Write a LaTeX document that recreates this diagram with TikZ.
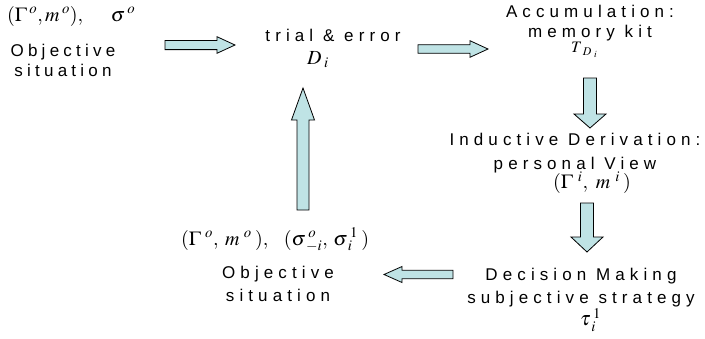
\documentclass[tikz,border=0pt]{standalone}
\usepackage{mathptmx}
\usepackage[no-math]{fontspec}
\setmainfont{Liberation Sans}[LetterSpace=30]
\usetikzlibrary{calc}
\definecolor{arrowfill}{HTML}{BFE3E5}
\tikzset{
  barrow/.style={draw=black, line width=0.8pt, fill=arrowfill, line join=miter},
  lbl/.style={font=\fontsize{17}{20}\selectfont, align=center, inner sep=0pt},
  mth/.style={font=\fontsize{20}{24}\selectfont, inner sep=0pt},
}
\newcommand\blockarrow[5]{%
  \coordinate (hb) at ($(#2)!#5!(#1)$);
  \filldraw[barrow] ($(#1)!#3!90:(#2)$) -- ($(hb)!#3!90:(#2)$) -- ($(hb)!#4!90:(#2)$)
    -- (#2) -- ($(hb)!#4!-90:(#2)$) -- ($(hb)!#3!-90:(#2)$) -- ($(#1)!#3!-90:(#2)$) -- cycle;
}
\begin{document}
\begin{tikzpicture}[x=1pt,y=-1pt]
  \useasboundingbox (0,0) rectangle (705,338);
  % texts
  \node[mth, anchor=west] (m1) at (7,16) {$(\Gamma^{\mkern3mu o},m^{\mkern3mu o}),\ \ \,\sigma^{\mkern3mu o}$};
  \node[lbl, font=\fontsize{17}{20}\selectfont\addfontfeatures{LetterSpace=25}] (o1) at (63,60) {Objective\\situation};
  \node[lbl] (t1) at (333,35) {trial \& error};
  \node[mth, anchor=west] (d1) at (307,60) {$D_{\mkern3mu i}$};
  \node[inner sep=0pt, font=\fontsize{16}{20}\selectfont, anchor=west] (tdi) at (571,50) {$T_{\mkern6mu D_{\mkern5mu i}}$};
  \node[lbl] (acc) at (590,23) {Accumulation:\\memory kit};
  \node[lbl, font=\fontsize{17}{24}\selectfont] (ind) at (575,153) {Inductive Derivation:\\personal View};
  \node[mth, anchor=west] (gi) at (553,183) {$(\Gamma^{\mkern6mu i},\mkern5mu m^{\mkern6mu i}\mkern3mu)$};
  \node[lbl, font=\fontsize{17}{23}\selectfont] (dec) at (581,288) {Decision Making\\subjective strategy};
  \node[mth, anchor=west] (tau) at (580,320) {$\tau^{\mkern3mu 1}_{\mkern3mu i}$};
  \node[mth, anchor=west] (m2) at (181,240) {$(\Gamma^{\mkern5mu o},\mkern4mu m^{\mkern5mu o}\mkern3mu),\mkern12mu(\sigma^{\mkern3mu o}_{\mkern3mu -i},\mkern3mu\sigma^{\mkern3mu 1}_{\mkern3mu i}\mkern3mu)$};
  \node[lbl, font=\fontsize{17}{23}\selectfont] (o2) at (278,284) {Objective\\situation};
  % arrows
  \coordinate (a1s) at (165,45);   \coordinate (a1e) at (235,45);
  \coordinate (a2s) at (418,49);   \coordinate (a2e) at (488,49);
  \coordinate (a3s) at (590,78);   \coordinate (a3e) at (590,128);
  \coordinate (a4s) at (587,203);  \coordinate (a4e) at (587,252);
  \coordinate (a5s) at (453,274.5);\coordinate (a5e) at (384,274.5);
  \coordinate (a6s) at (303,210);  \coordinate (a6e) at (303,88);
  \blockarrow{a1s}{a1e}{4.6pt}{8.3pt}{18pt}
  \blockarrow{a2s}{a2e}{4.3pt}{8.3pt}{18pt}
  \blockarrow{a3s}{a3e}{6.5pt}{16pt}{14pt}
  \blockarrow{a4s}{a4e}{6.5pt}{16pt}{15pt}
  \blockarrow{a5s}{a5e}{4.2pt}{8pt}{18pt}
  \blockarrow{a6s}{a6e}{6pt}{11.5pt}{32pt}
\end{tikzpicture}
\end{document}
